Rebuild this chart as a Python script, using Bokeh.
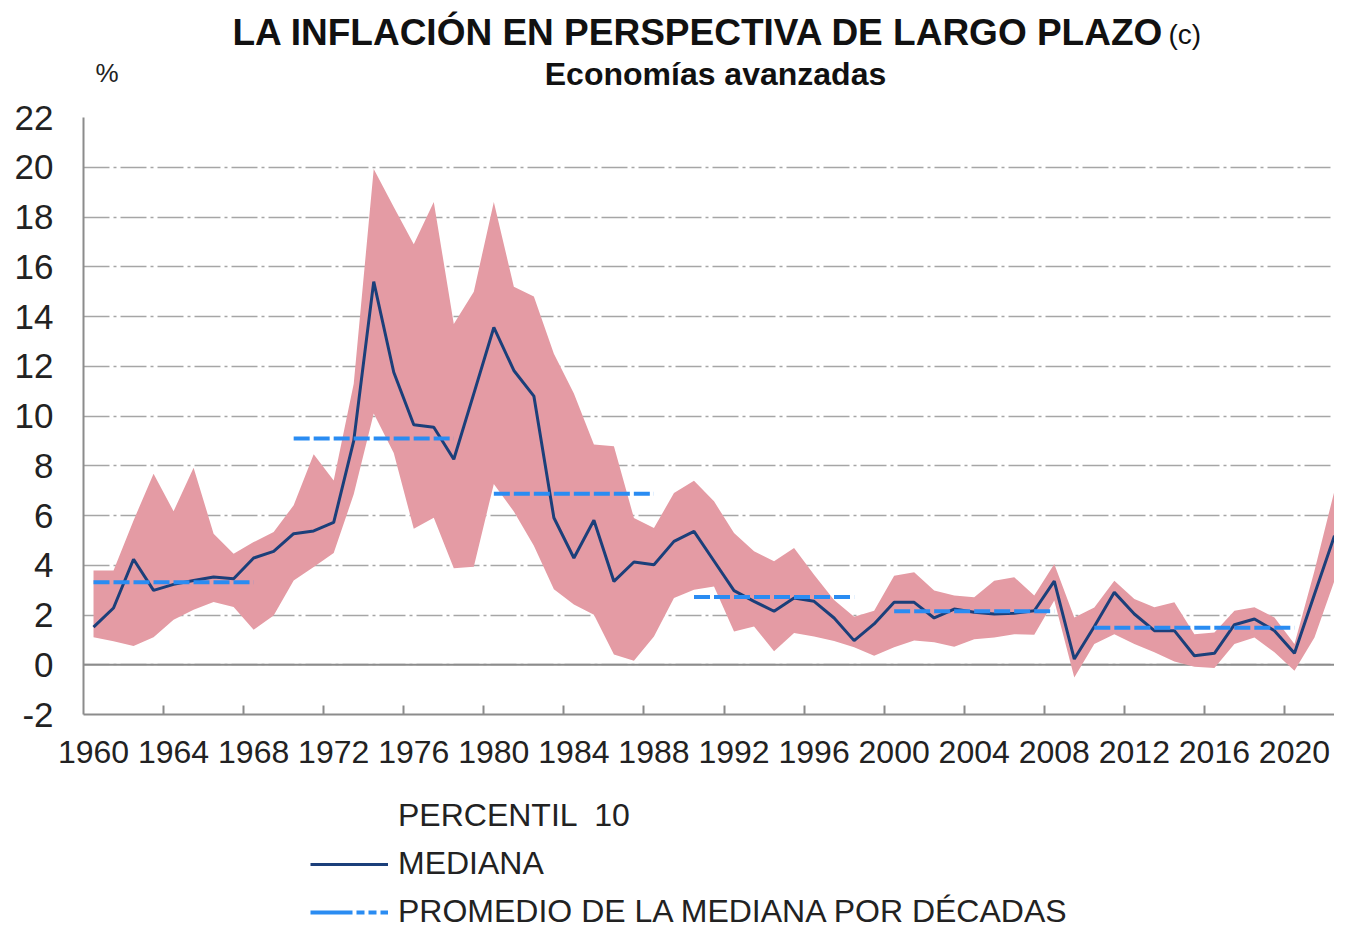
from bokeh.plotting import figure
from bokeh.layouts import column
from bokeh.models import (Range1d, FixedTicker, Legend, LegendItem, Span,
                          ColumnDataSource)
from bokeh.core.properties import value
from bokeh.embed import file_html
from bokeh.resources import INLINE

# ---------------- data ----------------
years = list(range(1960, 2023))

mediana = [1.51, 2.28, 4.24, 2.99, 3.23, 3.39, 3.53, 3.46, 4.29, 4.56,
           5.27, 5.38, 5.72, 9.0, 15.4, 11.76, 9.65, 9.55, 8.26, 10.9,
           13.56, 11.83, 10.8, 5.91, 4.29, 5.81, 3.35, 4.13, 4.02, 4.96,
           5.36, 4.17, 2.98, 2.55, 2.15, 2.68, 2.55, 1.88, 0.97, 1.64,
           2.51, 2.51, 1.88, 2.24, 2.11, 2.04, 2.07, 2.17, 3.36, 0.23,
           1.54, 2.91, 2.04, 1.37, 1.37, 0.36, 0.46, 1.61, 1.84, 1.37,
           0.46, 2.83, 5.19]

percentil_90 = [3.79, 3.79, 5.8, 7.68, 6.17, 7.92, 5.27, 4.46, 4.93, 5.34,
                6.41, 8.46, 7.41, 11.3, 19.93, 18.4, 16.9, 18.6, 13.7, 15.0,
                18.6, 15.2, 14.8, 12.5, 10.9, 8.85, 8.78, 5.9, 5.5, 6.9,
                7.4, 6.57, 5.3, 4.56, 4.16, 4.69, 3.62, 2.6, 1.93, 2.17,
                3.58, 3.72, 2.98, 2.78, 2.71, 3.38, 3.52, 2.78, 4.05, 1.9,
                2.3, 3.38, 2.64, 2.31, 2.51, 1.23, 1.30, 2.17, 2.31, 1.9,
                0.83, 3.78, 7.0]

percentil_10 = [1.11, 0.94, 0.75, 1.11, 1.81, 2.21, 2.52, 2.32, 1.41, 1.98,
                3.39, 3.93, 4.49, 6.85, 10.1, 8.51, 5.47, 5.91, 3.88, 3.94,
                7.27, 6.16, 4.78, 3.04, 2.42, 2.01, 0.41, 0.16, 1.14, 2.68,
                3.02, 3.15, 1.34, 1.54, 0.54, 1.28, 1.14, 0.95, 0.7, 0.36,
                0.7, 0.97, 0.9, 0.72, 1.03, 1.1, 1.23, 1.21, 2.58, -0.51,
                0.83, 1.23, 0.83, 0.5, 0.13, -0.08, -0.13, 0.83, 1.1, 0.5,
                -0.24, 1.1, 3.38]

decada_inicio = [1960, 1970, 1980, 1990, 2000, 2010]
decada_fin = [1968, 1978, 1988, 1998, 2008, 2020]
decada_promedio = [3.32, 9.1, 6.87, 2.72, 2.15, 1.49]

x_tick_labels = list(range(1960, 2021, 4))
x_tick_marks = [y - 0.5 for y in range(1964, 2021, 4)]
y_ticks = list(range(-2, 23, 2))
y_tick_text = {t: str(t) for t in y_ticks}

titulo = "LA INFLACIÓN EN PERSPECTIVA DE LARGO PLAZO"
nota = "(c)"
subtitulo = "Economías avanzadas"
unidad = "%"
leyenda = ["PERCENTIL  10", "MEDIANA", "PROMEDIO DE LA MEDIANA POR DÉCADAS"]

# ---------------- styles ----------------
W = 1334
LEFT = 83
H_TOP, H_MAIN, H_LEG = 99, 675, 156
MAIN_TOP, MAIN_BOTTOM = 18, 60
FONT = "Liberation Sans"
GRID = "#A6A6A6"
AXIS = "#8C8C8C"
BAND = "#E49BA4"
MED = "#1B3F7A"
AVG = "#2A8CF2"
TXT = "#222222"


def blank(h):
    f = figure(width=W, height=h, output_backend="svg", toolbar_location=None,
               x_range=Range1d(LEFT, W), y_range=Range1d(h, 0),
               x_axis_type=None, y_axis_type=None,
               min_border_left=LEFT, min_border_right=0,
               min_border_top=0, min_border_bottom=0)
    f.outline_line_color = None
    return f


# ---------------- header ----------------
top = blank(H_TOP)
top.text(x=[232], y=[32], text=[titulo], text_font=value(FONT),
         text_font_size=value("37px"), text_font_style="bold",
         text_color="#111111", text_align="left", text_baseline="middle")
top.text(x=[1168], y=[34], text=[nota], text_font=value(FONT),
         text_font_size=value("28px"), text_color="#111111",
         text_align="left", text_baseline="middle")
top.text(x=[715], y=[73], text=[subtitulo], text_font=value(FONT),
         text_font_size=value("32px"), text_font_style="bold",
         text_color="#111111", text_align="center", text_baseline="middle")
top.text(x=[95], y=[72], text=[unidad], text_font=value(FONT),
         text_font_size=value("26px"), text_color=TXT,
         text_align="left", text_baseline="middle")

# ---------------- main chart ----------------
p = figure(width=W, height=H_MAIN, output_backend="svg", toolbar_location=None,
           x_range=Range1d(1959.5, 2022.0), y_range=Range1d(-2, 22),
           min_border_left=LEFT, min_border_right=0, min_border_top=MAIN_TOP,
           min_border_bottom=MAIN_BOTTOM)
p.outline_line_color = None

p.xgrid.visible = False
p.ygrid.ticker = FixedTicker(ticks=y_ticks)
p.ygrid.grid_line_color = GRID
p.ygrid.grid_line_width = 1.6
p.ygrid.grid_line_dash = "26 4 3 4"

p.yaxis.ticker = FixedTicker(ticks=y_ticks)
p.yaxis.major_label_overrides = y_tick_text
p.yaxis.major_tick_in = 0
p.yaxis.major_tick_out = 0
p.yaxis.minor_tick_line_color = None
p.yaxis.axis_line_color = AXIS
p.yaxis.axis_line_width = 2
p.yaxis.major_label_standoff = 30
p.yaxis.major_label_text_font = FONT
p.yaxis.major_label_text_font_size = "35px"
p.yaxis.major_label_text_color = TXT

p.xaxis.ticker = FixedTicker(ticks=x_tick_labels, minor_ticks=x_tick_marks)
p.xaxis.major_tick_in = 0
p.xaxis.major_tick_out = 0
p.xaxis.minor_tick_in = 9
p.xaxis.minor_tick_out = 0
p.xaxis.minor_tick_line_color = AXIS
p.xaxis.minor_tick_line_width = 2
p.xaxis.axis_line_color = AXIS
p.xaxis.axis_line_width = 2
p.xaxis.major_label_standoff = 26
p.xaxis.major_label_text_font = FONT
p.xaxis.major_label_text_font_size = "32px"
p.xaxis.major_label_text_color = TXT

p.add_layout(Span(location=0, dimension="width", line_color=AXIS,
                  line_width=2, level="underlay"))

src = ColumnDataSource(dict(x=years, med=mediana, lo=percentil_10, hi=percentil_90))
p.varea(x="x", y1="lo", y2="hi", source=src, fill_color=BAND)
p.line(x="x", y="med", source=src, line_color=MED, line_width=3)

dsrc = ColumnDataSource(dict(x0=decada_inicio, x1=decada_fin, y=decada_promedio))
p.segment(x0="x0", y0="y", x1="x1", y1="y", source=dsrc,
          line_color=AVG, line_width=4, line_dash="16 4")

# ---------------- legend ----------------
leg = blank(H_LEG)
off = [-1000, -900]
r_pct = leg.varea(x=off, y1=[-1000, -1000], y2=[-900, -900], fill_alpha=0,
                  fill_color=BAND)
r_med = leg.line(x=off, y=[-1000, -1000], line_color=MED, line_width=3)
r_avg = leg.line(x=off, y=[-1000, -1000], line_color=AVG, line_width=4,
                 line_dash="42 4 8 4 8 4 8")
legend = Legend(items=[LegendItem(label=leyenda[0], renderers=[r_pct]),
                       LegendItem(label=leyenda[1], renderers=[r_med]),
                       LegendItem(label=leyenda[2], renderers=[r_avg])],
                location=(310 - LEFT, 0), orientation="vertical",
                padding=0, margin=0, spacing=11, glyph_width=78,
                glyph_height=36, label_standoff=10, label_height=36,
                label_text_font=FONT, label_text_font_size="32px",
                label_text_color=TXT, border_line_color=None,
                background_fill_alpha=0)
leg.add_layout(legend)

layout = column(top, p, leg, spacing=0)
open("out.html", "w").write(file_html(layout, INLINE))
